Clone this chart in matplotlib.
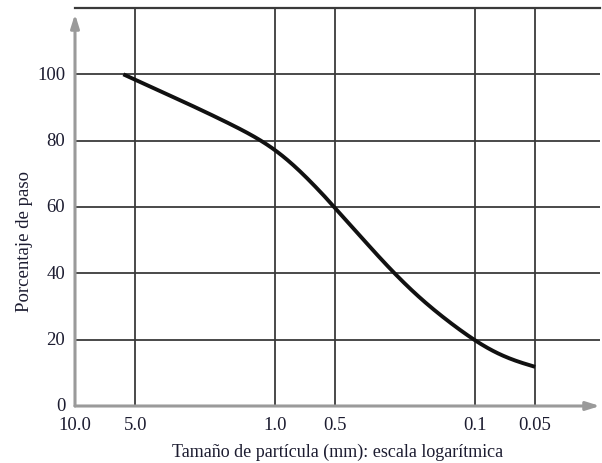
import matplotlib.pyplot as plt
import numpy as np

# values (size in mm, percent passing)
sizes = [5.73, 5.0, 2.47, 1.36, 1.14, 1.0, 0.78, 0.634, 0.5, 0.361, 0.252, 0.198,
         0.156, 0.1225, 0.1, 0.0788, 0.0641, 0.05]
passing = [100, 98.3, 90, 82.4, 80, 78, 72.4, 66.5, 60, 50, 39.6, 33.4,
           28.0, 23.6, 19.2, 15.6, 13.3, 11.8]

x_ticks = [10.0, 5.0, 1.0, 0.5, 0.1, 0.05]
x_labels = ['10.0', '5.0', '1.0', '0.5', '0.1', '0.05']
y_ticks = [0, 20, 40, 60, 80, 100]

plt.rcParams['font.family'] = ['Liberation Serif', 'DejaVu Serif']


def smooth_curve(x, y, n=400, sigma=20):
    # linear interpolation in log space, then gaussian smoothing
    xs = np.linspace(x[0], x[-1], n)
    ys = np.interp(xs, x, y)
    k = np.arange(-3 * sigma, 3 * sigma + 1)
    w = np.exp(-0.5 * (k / sigma) ** 2)
    w /= w.sum()
    p = 3 * sigma
    # odd reflection keeps the end points in place
    left = 2 * ys[0] - ys[1:p + 1][::-1]
    right = 2 * ys[-1] - ys[-p - 1:-1][::-1]
    ys_s = np.convolve(np.concatenate([left, ys, right]), w, mode='valid')
    return xs, ys_s


fig = plt.figure(figsize=(6.02, 4.64), dpi=100)
ax = fig.add_axes([75 / 602, 57 / 464, 525 / 602, 398 / 464])

lx = np.log10(sizes)[::-1]
xs, ys = smooth_curve(lx, np.array(passing[::-1], float))
ax.plot(10 ** xs, ys, color='#111111', lw=2.8, solid_capstyle='butt', zorder=5)

ax.set_xscale('log')
ax.set_xlim(10.0, 0.0237)
ax.set_ylim(0, 120)
ax.minorticks_off()
ax.set_xticks(x_ticks)
ax.set_xticklabels(x_labels)
ax.set_yticks(y_ticks)

grid_c = '#3a3a3a'
for v in x_ticks[1:]:
    ax.axvline(v, color=grid_c, lw=1.3, zorder=1)
for v in y_ticks[1:]:
    ax.axhline(v, color=grid_c, lw=1.3, zorder=1)
ax.axhline(120, color=grid_c, lw=1.6, zorder=1, clip_on=False)

for s in ['top', 'right', 'left', 'bottom']:
    ax.spines[s].set_visible(False)

# gray axes with arrows
ax.annotate('', xy=(0, 1.0 - 6 / 398), xytext=(0, 0), xycoords='axes fraction',
            arrowprops=dict(arrowstyle='-|>,head_length=0.8,head_width=0.25',
                            color='#9a9a9a', lw=2.2, shrinkA=0, shrinkB=0), zorder=6)
ax.annotate('', xy=(1.0, 0), xytext=(0, 0), xycoords='axes fraction',
            arrowprops=dict(arrowstyle='-|>,head_length=0.8,head_width=0.25',
                            color='#9a9a9a', lw=2.2, shrinkA=0, shrinkB=0), zorder=6)

txt_c = '#1c1c30'
ax.tick_params(axis='both', length=0, labelsize=13.5, colors=txt_c)
ax.tick_params(axis='x', pad=7)
ax.tick_params(axis='y', pad=7)
for lab in ax.get_yticklabels():
    lab.set_verticalalignment('center')

ax.set_xlabel('Tamaño de partícula (mm): escala logarítmica', fontsize=13, color=txt_c, labelpad=7)
ax.set_ylabel('Porcentaje de paso', fontsize=13.5, color=txt_c)
ax.yaxis.set_label_coords(-0.08, 50 / 120)

fig.savefig('out.png', dpi=100)
